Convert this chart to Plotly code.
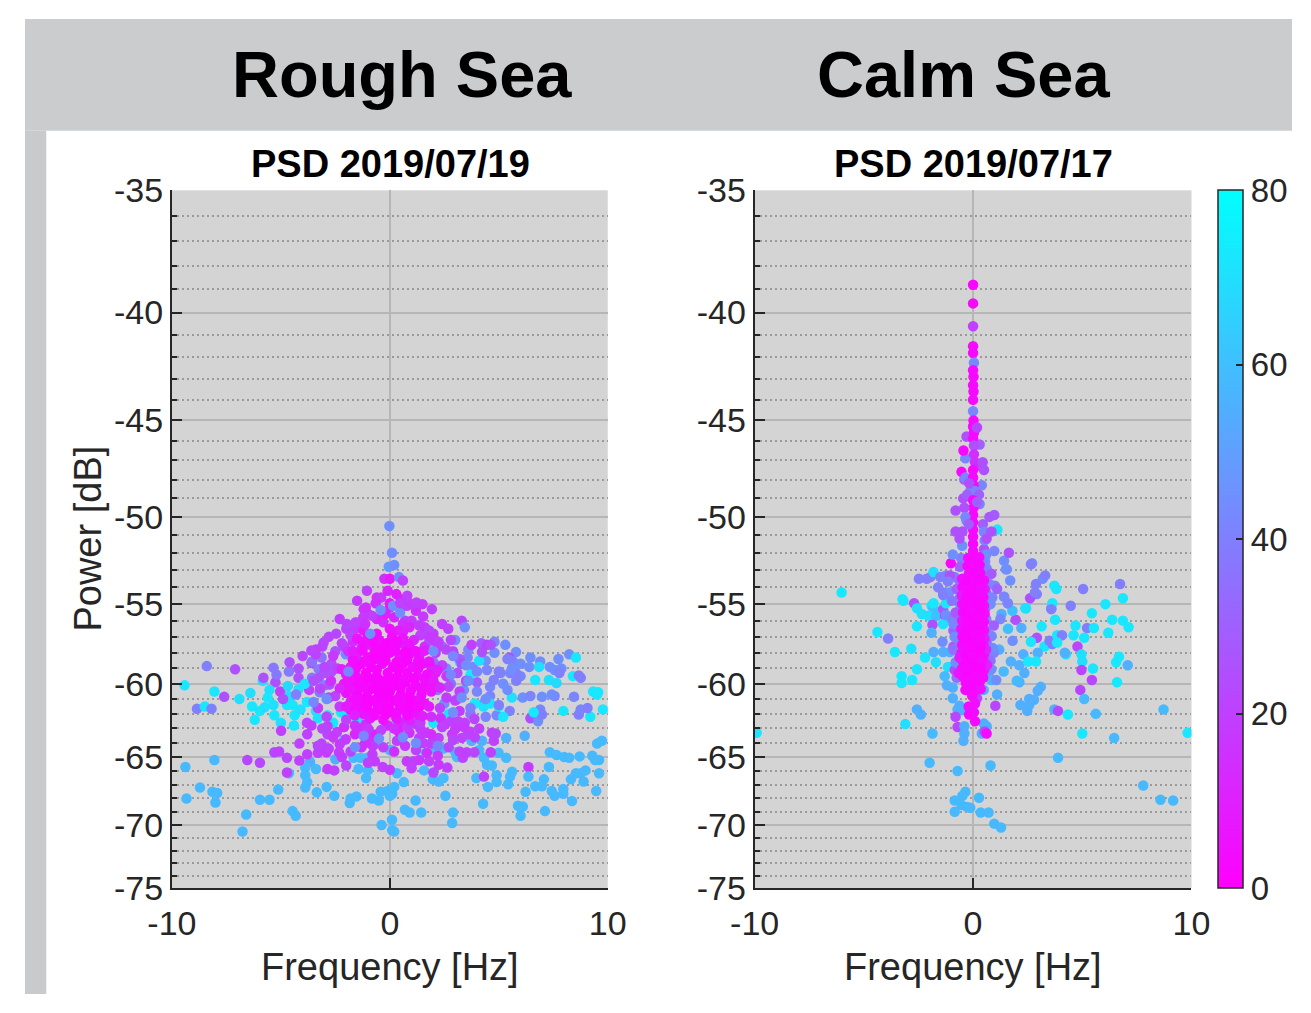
import math
import plotly.graph_objects as go

# ---------------- DATA ----------------
# Rough Sea (PSD 2019/07/19): frequency [Hz], power [dB], colour level (0-80)
rough_lowleft_freq = [-9.38, -8.05, -8.71, -9.33, -8.14, -7.92, -8.0, -6.59, -6.76, -5.96,
                      -5.52, -5.12, -4.46, -4.32, -3.88, -3.35, -2.9, -2.55, -1.84, -1.8,
                      -1.53, -0.82, -0.51, -0.38, -0.42, -0.11, 0.11, 0.11, -3.66, -3.88,
                      -3.88, -3.79, -3.39, -4.63, -2.5, -2.1, -1.44, -0.55, -1.66, -1.35,
                      -1.04, -1.44, -1.0, -1.09, 0.0]
rough_lowleft_power = [-65.7, -65.2, -67.2, -68.0, -67.5, -67.6, -68.3, -69.2, -70.5, -68.1,
                       -68.1, -67.35, -68.95, -69.3, -67.2, -67.55, -67.15, -67.8, -68.35, -68.0,
                       -67.85, -68.0, -68.15, -70.0, -67.5, -67.45, -67.65, -70.4, -65.35, -65.75,
                       -66.3, -66.8, -65.85, -66.15, -65.15, -63.8, -62.55, -64.05, -65.05, -65.05,
                       -65.05, -65.85, -65.95, -66.5, -64.5]
rough_lowleft_level = [58, 58, 58, 58, 58, 58, 58, 58, 58, 58,
                       58, 58, 58, 58, 58, 58, 58, 58, 58, 58,
                       58, 58, 58, 58, 58, 58, 58, 58, 55, 58,
                       58, 58, 58, 58, 55, 55, 55, 55, 58, 58,
                       58, 58, 58, 58, 58]

rough_lowright_freq = [0.1, 1.22, 1.66, 2.1, 2.46, 3.0, 3.08, 3.75, 4.23, 4.77,
                       4.68, 5.34, 6.19, 4.1, 4.32, 4.46, 4.68, 4.99, 5.34, 4.63,
                       0.33, 0.64, 0.2, 1.18, 0.0, 0.69, 0.91, 1.44, 0.1, 0.2,
                       1.57, 1.97, 2.24, 2.46, 2.55, 2.9, 2.86, 3.97, 4.32, 4.5,
                       4.9, 4.9, 5.43, 5.52, 5.61, 4.28, 5.88, 6.1, 6.0, 6.36,
                       6.36, 6.23, 6.67, 6.98, 7.07, 7.12, 7.3, 7.34, 7.65, 8.0,
                       8.23, 7.43, 7.56, 7.96, 7.96, 8.36, 8.71, 8.31, 8.54, 8.76,
                       8.98, 8.89, 9.29, 9.42, 9.6, 9.51, 9.73, 9.6, 9.47]
rough_lowright_power = [-64.5, -64.5, -64.7, -64.5, -64.4, -64.65, -65.0, -63.85, -63.85, -63.85,
                        -63.3, -63.65, -63.5, -64.5, -65.05, -65.55, -65.6, -64.7, -65.05, -64.65,
                        -66.15, -66.8, -67.15, -68.15, -67.8, -68.85, -69.05, -69.05, -69.6, -70.5,
                        -65.95, -66.6, -66.75, -66.5, -67.8, -69.05, -69.85, -66.5, -66.4, -67.15,
                        -66.3, -66.8, -66.95, -66.4, -66.05, -68.4, -68.55, -68.6, -69.3, -65.7,
                        -66.4, -67.5, -67.1, -67.1, -66.6, -68.95, -65.7, -64.65, -64.85, -65.0,
                        -65.05, -67.45, -67.8, -67.3, -67.65, -68.2, -64.95, -66.6, -66.15, -66.15,
                        -65.95, -66.75, -64.9, -65.2, -65.2, -64.05, -63.85, -66.15, -67.45]
rough_lowright_level = [58, 58, 58, 58, 58, 58, 58, 55, 55, 20,
                        20, 55, 55, 58, 58, 58, 58, 58, 58, 20,
                        58, 58, 58, 58, 58, 58, 58, 58, 58, 58,
                        58, 58, 58, 58, 58, 58, 58, 58, 20, 58,
                        58, 58, 58, 58, 58, 58, 58, 58, 58, 18,
                        58, 58, 58, 58, 58, 58, 58, 58, 58, 58,
                        58, 58, 58, 58, 58, 58, 58, 58, 58, 58,
                        58, 58, 58, 58, 58, 58, 58, 58, 58]

rough_left_freq = [-8.4, -7.1, -5.34, -4.63, -4.19, -4.19, -3.6, -3.26, -3.13, -3.57,
                   -2.68, -2.68, -2.02, -1.53, -9.42, -8.05, -7.6, -5.83, -5.25, -5.03,
                   -5.52, -4.68, -4.63, -4.19, -8.85, -8.49, -8.18, -6.32, -5.96, -5.74,
                   -5.3, -5.34, -4.72, -4.46, -4.37, -4.1, -3.3, -3.39, -2.86, -2.86,
                   -2.24, -2.02, -1.53, -1.8, -3.57, -3.26, -2.99, -2.77, -3.22]
rough_left_power = [-58.85, -59.05, -58.95, -59.2, -59.0, -59.6, -58.65, -59.05, -58.3, -58.55,
                    -58.7, -59.2, -58.1, -58.55, -60.1, -60.5, -60.85, -59.8, -59.9, -60.5,
                    -60.4, -60.15, -60.8, -60.35, -61.65, -61.5, -61.65, -61.5, -61.8, -61.55,
                    -62.1, -61.4, -61.4, -61.4, -62.1, -61.7, -61.6, -61.8, -62.1, -60.95,
                    -61.9, -62.05, -61.7, -61.75, -59.6, -59.6, -60.1, -60.05, -60.55]
rough_left_level = [40, 25, 38, 38, 25, 25, 25, 38, 35, 35,
                    25, 25, 45, 45, 72, 72, 25, 70, 25, 20,
                    70, 68, 70, 70, 40, 72, 40, 72, 72, 70,
                    72, 70, 72, 72, 72, 70, 40, 72, 72, 40,
                    72, 72, 5, 5, 38, 25, 42, 25, 38]

rough_fillleft_freq = [-5.8, -5.2, -4.6, -4.0, -3.4, -6.4, -5.6, -4.9, -4.3, -3.7,
                       -5.0, -4.4, -3.8, -6.9, -6.2, -3.1, -2.5]
rough_fillleft_power = [-59.6, -59.4, -58.6, -58.2, -57.8, -60.6, -60.9, -61.0, -60.7, -60.4,
                        -62.6, -62.8, -62.6, -61.0, -62.4, -57.6, -57.9]
rough_fillleft_level = [25, 38, 25, 22, 20, 70, 72, 25, 40, 20,
                        70, 72, 22, 70, 72, 20, 25]

rough_right_freq = [4.8, 5.3, 5.79, 5.48, 5.65, 6.45, 6.9, 6.4, 7.34, 7.56,
                    7.87, 7.78, 8.23, 8.54, 8.4, 8.67, 8.76, 9.33, 9.56, 7.74,
                    7.3, 7.65, 6.67, 6.85, 6.0, 5.79, 5.52, 5.08, 4.77, 4.46,
                    3.22, 3.57, 9.78, 9.2, 8.67, 8.76, 9.07, 8.45, 9.51, 7.96,
                    6.45, 6.8, 6.9, 6.98, 7.56, 7.43, 6.1, 6.45, 6.98]
rough_right_power = [-57.3, -57.5, -57.95, -58.3, -58.55, -58.3, -58.55, -58.9, -58.9, -59.1,
                     -59.0, -59.3, -58.1, -58.3, -59.5, -59.45, -59.6, -60.5, -60.55, -58.4,
                     -59.75, -59.95, -59.75, -58.9, -59.5, -59.3, -59.3, -59.3, -59.75, -59.1,
                     -58.6, -58.3, -61.7, -62.2, -62.05, -61.7, -61.6, -60.85, -60.7, -61.8,
                     -62.3, -62.5, -61.7, -62.05, -60.8, -60.7, -60.9, -60.8, -60.85]
rough_right_level = [42, 45, 45, 25, 40, 45, 45, 45, 45, 45,
                     45, 40, 45, 72, 72, 40, 40, 72, 72, 45,
                     70, 68, 72, 70, 42, 40, 42, 42, 40, 42,
                     70, 42, 72, 72, 40, 42, 40, 42, 72, 72,
                     25, 45, 42, 40, 42, 45, 45, 42, 45]

rough_fillright_freq = [1.8, 2.4, 3.0, 3.6, 4.2, 4.8, 5.4, 6.0,
                        2.0, 2.6, 3.2, 3.8, 4.4, 5.0, 5.6,
                        2.2, 2.8, 3.4, 4.0, 4.6, 5.2, 5.8,
                        2.5, 3.1, 3.7, 4.3, 4.9, 5.5]
rough_fillright_power = [-57.3, -57.6, -57.2, -57.8, -57.4, -58.0, -58.4, -58.7,
                         -58.6, -59.0, -58.4, -58.9, -58.5, -59.2, -59.0,
                         -60.4, -60.0, -60.4, -59.9, -60.8, -60.0, -59.8,
                         -61.3, -61.0, -62.0, -61.3, -62.1, -61.8]
rough_fillright_level = [40, 35, 45, 42, 30, 45, 40, 45,
                         35, 45, 30, 42, 45, 40, 45,
                         40, 35, 45, 30, 42, 45, 40,
                         45, 40, 35, 45, 42, 40]

rough_cyan_freq = [0.2, 0.5, 2.0, 2.7, 3.9, 4.3, 4.6, 5.0, 5.2, 5.6,
                   6.6, -3.8, -3.3, -2.6, -2.2, -3.9, -1.5, 3.7, 4.1]
rough_cyan_power = [-62.8, -62.5, -62.6, -62.0, -61.3, -61.5, -61.3, -61.5, -62.2, -60.9,
                    -61.9, -61.2, -62.3, -62.6, -60.2, -60.0, -62.5, -59.4, -58.5]
rough_cyan_level = [72, 70, 72, 70, 72, 70, 72, 70, 72, 70,
                    72, 72, 70, 72, 70, 72, 70, 72, 70]

rough_ringleft_freq = [-4.99, -3.79, -4.15, -2.86, -2.86, -2.42, -2.02, -3.13, -3.22, -3.3,
                       -2.9, -5.3, -5.08, -4.72, -3.79, -4.15, -6.54, -5.96, -4.72, -2.86,
                       -2.55, -2.33, -2.2, -1.31, -0.91, -0.86, -0.69, -0.33, -0.78, -1.13]
rough_ringleft_power = [-63.15, -63.4, -64.05, -62.85, -63.4, -63.25, -63.75, -64.05, -64.5, -64.7,
                        -64.65, -64.65, -64.6, -65.05, -64.8, -65.25, -65.2, -65.4, -66.1, -65.85,
                        -65.95, -64.65, -65.0, -63.0, -63.3, -63.65, -65.3, -65.7, -64.2, -64.0]
rough_ringleft_level = [20, 20, 20, 20, 22, 20, 18, 20, 22, 20,
                        18, 22, 20, 22, 20, 20, 22, 22, 20, 18,
                        20, 20, 18, 15, 18, 15, 18, 20, 18, 15]

rough_ringright_freq = [0.47, 0.33, 1.35, 1.53, 2.1, 2.24, 2.86, 3.3, 3.57, 3.66,
                        3.88, 4.1, 4.86, 0.78, 1.09, 1.35, 1.8, 2.24, 2.64, 3.35,
                        3.53, 3.88, 0.42, 0.69, 1.22, 1.66, 1.88, 2.33, 2.55, 3.13,
                        3.0, 3.44]
rough_ringright_power = [-63.65, -63.85, -63.65, -64.0, -63.85, -63.65, -63.4, -63.65, -63.4, -63.2,
                         -62.35, -63.0, -63.35, -65.3, -65.3, -65.2, -65.3, -65.55, -65.75, -65.05,
                         -64.65, -64.65, -62.65, -62.55, -62.7, -63.3, -64.05, -62.3, -62.7, -62.5,
                         -63.05, -62.6]
rough_ringright_level = [18, 20, 18, 20, 18, 20, 18, 20, 22, 20,
                         22, 20, 22, 18, 20, 18, 20, 18, 20, 22,
                         20, 22, 10, 12, 15, 18, 20, 15, 18, 20,
                         18, 20]

rough_filllower_freq = [-3.6, -3.1, -2.6, -2.1, -1.6, -1.1, -0.6, -0.1, 0.4, 0.9,
                        1.4, 1.9, 2.4, 2.9, 3.4, 3.9, -3.3, -2.8, -2.3, -1.8,
                        -1.3, -0.8, -0.3, 0.2, 0.7, 1.2, 1.7, 2.2, 2.7, 3.2,
                        -2.0, -1.0, 0.0, 1.0, 2.0]
rough_filllower_power = [-62.8, -63.0, -63.6, -62.9, -63.4, -62.7, -63.4, -62.8, -63.2, -63.3,
                         -63.0, -63.4, -62.9, -63.8, -62.9, -63.6, -64.2, -64.4, -64.1, -64.6,
                         -64.3, -64.8, -64.3, -64.6, -64.2, -64.5, -64.7, -64.9, -64.3, -64.6,
                         -65.6, -65.4, -65.9, -65.8, -66.1]
rough_filllower_level = [20, 22, 18, 15, 12, 15, 10, 12, 10, 15,
                         18, 15, 20, 22, 18, 20, 22, 20, 18, 20,
                         15, 18, 20, 15, 18, 20, 15, 18, 22, 20,
                         22, 20, 18, 20, 22]

rough_ring_freq = [-2.6, -2.4, -2.7, -2.5, -2.3, -2.0, -1.6, -1.0, -0.4, 0.2,
                   0.8, 1.4, 1.9, 2.3, 2.6, 2.7, 2.6, 2.4, 2.1, 1.6,
                   -2.1, -1.7, -3.0, -3.2, 3.1, 3.2, 1.6, -1.6, -0.3, 0.7]
rough_ring_power = [-58.2, -59.0, -59.8, -60.8, -61.5, -62.4, -62.8, -63.0, -63.1, -63.0,
                    -62.9, -62.6, -62.2, -61.6, -60.9, -60.2, -59.5, -58.8, -58.0, -57.6,
                    -57.6, -57.3, -59.3, -60.3, -59.3, -60.5, -56.4, -56.5, -56.1, -56.0]
rough_ring_level = [18, 20, 15, 22, 18, 20, 15, 18, 20, 15,
                    18, 20, 15, 20, 18, 22, 18, 20, 18, 15,
                    20, 15, 25, 22, 25, 20, 18, 18, 15, 20]

rough_ring2_freq = [-3.4, -3.0, -2.8, -3.5, -3.3, -2.9, 2.9, 3.3, 3.0, 3.5,
                    3.2, 2.8, -2.3, -1.2, 0.0, 1.2, 2.4, -1.5, -0.6, 0.5,
                    1.5, -2.8, 2.8, -2.0, 2.0]
rough_ring2_power = [-58.1, -58.9, -60.9, -59.8, -61.6, -62.2, -57.9, -58.7, -61.1, -59.8,
                     -61.8, -62.5, -55.9, -55.3, -55.2, -55.4, -56.2, -54.8, -54.6, -54.7,
                     -55.0, -57.0, -57.2, -56.5, -56.8]
rough_ring2_level = [20, 22, 18, 25, 20, 22, 22, 25, 20, 22,
                     18, 20, 18, 15, 12, 15, 20, 18, 15, 12,
                     18, 22, 22, 20, 18]

rough_fillupper_freq = [-2.2, -1.8, -1.4, -1.0, -0.6, -0.2, 0.2, 0.6, 1.0, 1.4,
                        1.8, 2.2, -1.9, -1.3, -0.7, 0.4, 0.9, 1.5, 2.0, 2.6,
                        -0.4, 0.3, 0.8, -1.1]
rough_fillupper_power = [-57.4, -56.9, -56.4, -55.6, -55.9, -55.6, -55.8, -56.2, -56.0, -56.9,
                         -56.6, -57.6, -57.9, -57.7, -57.3, -56.6, -56.4, -57.9, -57.2, -57.8,
                         -54.6, -54.4, -54.5, -55.2]
rough_fillupper_level = [20, 22, 18, 15, 12, 10, 12, 15, 18, 20,
                         22, 18, 15, 12, 10, 8, 12, 15, 18, 22,
                         18, 10, 20, 15]

rough_core_freq = [-1.2, -0.6, 0.0, 0.6,
                   -1.5, -1.0, -0.5, 0.1, 0.6, 1.1,
                   -0.9, -0.4, 0.1, 0.55, 1.0,
                   -1.5, -1.0, -0.5, 0.0, 0.45, 0.9, 1.35,
                   -1.8, -1.3, -0.85, -0.35, 0.15, 0.6, 1.05, 1.5, 1.9,
                   -2.0, -1.55, -1.1, -0.6, -0.1, 0.35, 0.8, 1.25, 1.7, 2.1,
                   -2.1, -1.6, -1.15, -0.65, -0.2, 0.25, 0.7, 1.2, 1.65, 2.1,
                   -2.0, -1.5, -1.0, -0.5, 0.0, 0.5, 0.95, 1.45, 1.9,
                   -1.8, -1.3, -0.8, -0.3, 0.2, 0.7, 1.15, 1.6,
                   -1.4, -0.9, -0.4, 0.1, 0.6, 1.1,
                   -0.9, -0.3, 0.3, 0.9]
rough_core_power = [-56.6, -56.8, -56.5, -56.7,
                    -57.1, -57.0, -57.2, -57.0, -57.1, -57.2,
                    -57.5, -57.7, -57.6, -57.4, -57.8,
                    -58.1, -58.3, -58.2, -58.0, -58.3, -58.1, -58.3,
                    -58.9, -58.7, -58.9, -58.7, -58.9, -58.7, -58.9, -58.7, -58.9,
                    -59.4, -59.5, -59.3, -59.5, -59.3, -59.5, -59.3, -59.5, -59.4, -59.3,
                    -60.0, -60.1, -59.9, -60.1, -59.9, -60.1, -59.9, -60.1, -59.9, -60.1,
                    -60.6, -60.7, -60.5, -60.7, -60.5, -60.7, -60.5, -60.7, -60.5,
                    -61.2, -61.3, -61.1, -61.3, -61.1, -61.3, -61.1, -61.3,
                    -61.8, -61.9, -61.7, -61.9, -61.7, -61.9,
                    -62.3, -62.4, -62.3, -62.4]
rough_core_level = [8, 4, 6, 10,
                    6, 3, 5, 4, 6, 12,
                    8, 3, 5, 10, 6,
                    10, 4, 2, 3, 5, 4, 8,
                    8, 3, 2, 4, 2, 3, 5, 6, 10,
                    10, 4, 2, 3, 2, 2, 3, 5, 4, 8,
                    6, 3, 2, 2, 3, 2, 2, 4, 3, 6,
                    5, 2, 3, 2, 2, 3, 2, 5, 6,
                    8, 4, 2, 3, 2, 4, 3, 6,
                    6, 3, 2, 4, 3, 5,
                    8, 5, 6, 10]

rough_core2_freq = [-1.7, -1.2, -0.7, -0.2, 0.3, 0.8, 1.3, 1.8,
                    -1.9, -1.4, -0.9, -0.4, 0.1, 0.6, 1.1, 1.6, 2.0,
                    -1.6, -1.1, -0.6, -0.1, 0.4, 0.9, 1.4,
                    -1.2, -0.7, -0.2, 0.3, 0.8, 1.3]
rough_core2_power = [-58.45, -58.55, -58.4, -58.5, -58.6, -58.45, -58.5, -58.55,
                     -59.7, -59.75, -59.65, -59.8, -59.7, -59.75, -59.65, -59.7, -59.8,
                     -60.95, -60.9, -61.0, -60.85, -60.95, -60.9, -61.0,
                     -62.0, -62.1, -62.05, -62.0, -62.1, -62.05]
rough_core2_level = [4, 3, 2, 2, 3, 2, 4, 6,
                     6, 3, 2, 2, 2, 3, 2, 4, 8,
                     4, 2, 2, 2, 3, 2, 5,
                     6, 3, 2, 4, 3, 6]

rough_core3_freq = [-1.25, -0.75, -0.15, 0.35, 0.85,
                    -1.7, -1.25, -0.7, -0.25, 0.25, 0.7, 1.2, 1.6,
                    -2.2, -1.55, -0.6, 0.4, 1.3, 2.2,
                    -2.3, -1.8, -1.3, -0.8, -0.4, 0.05, 0.5, 1.0, 1.45, 1.9, 2.3,
                    -2.0, -1.55, -1.05, -0.55, -0.05, 0.45, 0.9, 1.35, 1.8,
                    -1.6, 1.5]
rough_core3_power = [-57.35, -57.3, -57.4, -57.3, -57.45,
                     -57.9, -57.85, -57.95, -57.9, -57.85, -57.95, -57.9, -57.85,
                     -59.05, -59.0, -59.1, -59.05, -59.0, -59.1,
                     -60.3, -60.35, -60.25, -60.3, -60.35, -60.3, -60.25, -60.3, -60.35, -60.3, -60.25,
                     -61.5, -61.55, -61.45, -61.5, -61.55, -61.45, -61.5, -61.55, -61.5,
                     -62.1, -62.15]
rough_core3_level = [5, 3, 2, 3, 6,
                     8, 4, 2, 2, 3, 2, 4, 8,
                     10, 3, 2, 2, 4, 10,
                     12, 6, 3, 2, 2, 2, 2, 3, 4, 6, 12,
                     8, 4, 2, 3, 2, 3, 2, 4, 8,
                     10, 10]

rough_blue_freq = [2.0, 2.9, 3.5, 2.8, 3.6, 4.0, 3.3, 4.0, 2.9, 3.7,
                   4.4, 4.6, 5.0, 5.4, 4.4, -0.5, -1.9, -2.9, -3.5, -1.2,
                   0.6, 1.2, 2.2, -1.6]
rough_blue_power = [-57.9, -58.2, -58.8, -59.4, -59.8, -59.2, -60.9, -60.5, -61.9, -61.6,
                    -61.0, -60.2, -61.4, -60.4, -62.2, -63.7, -59.2, -61.0, -61.2, -63.5,
                    -63.6, -64.0, -64.2, -64.3]
rough_blue_level = [45, 42, 45, 42, 45, 42, 45, 42, 45, 40,
                    45, 42, 40, 45, 42, 45, 42, 45, 42, 42,
                    45, 45, 42, 45]

rough_top_freq = [-0.02, 0.1, -0.05, 0.2, -0.25, 0.0, 0.42, 0.6, -1.05, -0.1,
                  -0.65, -0.42, 0.0, 0.15, 0.47, 0.47, 0.78, 1.0, 1.22, -0.82,
                  -1.22, -1.57, -1.97, -1.13, -2.46, -3.04, -3.6, -0.9, 1.53, 1.93,
                  3.3, 3.44, 2.68, 1.8, 2.24, 1.35, 3.75, 4.23, 4.46, 4.63]
rough_top_power = [-50.5, -52.0, -52.8, -52.7, -53.5, -53.5, -53.4, -53.6, -54.2, -54.2,
                   -54.95, -55.35, -54.95, -55.1, -55.5, -54.95, -55.1, -55.0, -54.9, -55.7,
                   -55.8, -56.1, -56.2, -56.2, -56.8, -57.35, -57.85, -56.8, -55.75, -55.3,
                   -56.0, -56.4, -56.5, -57.0, -57.3, -56.3, -57.5, -57.95, -57.5, -57.5]
rough_top_level = [45, 45, 48, 45, 15, 8, 45, 20, 20, 12,
                   15, 45, 8, 45, 45, 20, 20, 18, 20, 20,
                   18, 20, 22, 15, 22, 22, 22, 45, 18, 20,
                   22, 45, 20, 18, 20, 18, 20, 25, 20, 25]

# Calm Sea (PSD 2019/07/17)
calm_low_freq = [-0.71, -0.35, -0.49, -0.84, 0.27, -0.53, -0.27, -0.13, -0.84, 0.35,
                 0.71, 0.97, 1.28]
calm_low_power = [-66.0, -67.5, -67.8, -68.15, -67.95, -68.5, -68.65, -68.7, -69.0, -69.05,
                  -69.05, -69.9, -70.2]
calm_low_level = [58, 58, 58, 58, 58, 58, 58, 58, 58, 58,
                  58, 58, 58]

calm_left_freq = [-6.02, -4.38, -3.89, -3.58, -3.27, -3.27, -2.79, -2.57, -2.83, -3.1,
                  -2.57, -2.39, -1.86, -1.99, -3.23, -2.7, -2.57, -2.35, -2.48, -2.12,
                  -1.95, -1.81, -1.5, -1.24, -0.97, -1.9, -1.81, -2.04, -1.68, -1.37,
                  -1.15, -1.37, -1.28, -2.57, -1.86, -1.9, -1.37, -1.24, -0.97, -1.81,
                  -1.37, -1.06, -1.15, -0.84, -1.81, -1.24, -0.62, -3.19, -9.91]
calm_left_power = [-54.3, -56.7, -57.1, -57.95, -59.5, -59.95, -59.75, -59.05, -57.75, -62.7,
                   -61.7, -62.05, -63.35, -65.4, -54.7, -54.95, -55.25, -55.6, -53.5, -53.5,
                   -53.4, -53.1, -53.4, -53.3, -53.4, -55.1, -55.25, -55.7, -55.7, -55.3,
                   -54.85, -54.3, -55.7, -56.35, -56.25, -56.75, -56.2, -55.65, -55.9, -57.95,
                   -57.95, -57.95, -58.9, -59.1, -54.95, -54.95, -54.95, -54.8, -63.3]
calm_left_level = [72, 72, 40, 72, 72, 72, 72, 72, 70, 70,
                   55, 55, 58, 58, 72, 25, 70, 70, 40, 40,
                   40, 70, 40, 42, 40, 72, 60, 70, 60, 28,
                   40, 40, 25, 72, 25, 55, 70, 45, 40, 55,
                   55, 55, 70, 22, 72, 72, 45, 72, 72]

calm_right_freq = [2.7, 3.19, 3.3, 2.88, 2.65, 2.92, 2.61, 2.43, 2.83, 3.81,
                   3.72, 3.58, 3.63, 2.39, 1.42, 1.59, 4.47, 5.04, 6.73, 6.86,
                   6.06, 5.44, 3.76, 3.58, 1.95, 4.69, 4.6, 5.22, 5.09, 5.53,
                   6.19, 6.37, 6.86, 7.12, 3.14, 2.21, 1.81, 2.92, 2.65, 3.27,
                   3.5, 3.63, 3.85, 4.07, 3.85, 4.78, 4.25, 4.2, 5.0, 4.96,
                   2.3, 2.96, 1.73, 2.12, 2.35, 2.12, 2.88, 2.52, 5.49, 4.96,
                   5.44, 6.55, 6.68, 7.08, 6.59, 4.91, 5.09, 3.1, 2.96, 2.57,
                   2.17, 2.57, 2.48, 2.79, 3.72, 3.89, 4.34, 5.62, 5.0, 3.89,
                   6.46, 7.79, 8.58, 9.16, 8.72, 9.82, 0.8]
calm_right_power = [-52.6, -53.5, -53.3, -53.8, -52.65, -54.4, -54.65, -55.25, -54.3, -54.1,
                    -53.9, -55.25, -54.95, -55.25, -54.55, -54.95, -55.1, -54.1, -53.8, -54.65,
                    -55.0, -55.55, -55.95, -55.3, -55.95, -56.3, -56.9, -56.45, -57.05, -56.45,
                    -56.75, -55.95, -56.0, -56.4, -56.35, -56.45, -57.25, -57.05, -57.3, -57.6,
                    -57.25, -57.45, -56.9, -56.9, -57.35, -57.6, -58.1, -58.0, -58.55, -58.1,
                    -58.1, -58.0, -58.55, -58.8, -59.3, -59.9, -58.55, -58.55, -59.0, -59.1,
                    -59.75, -58.6, -58.25, -58.8, -59.9, -60.4, -61.0, -60.2, -60.45, -61.0,
                    -61.4, -61.4, -61.8, -61.05, -61.7, -61.8, -62.05, -62.0, -63.35, -65.05,
                    -63.65, -67.05, -68.1, -68.15, -61.7, -63.3, -65.6]
calm_right_level = [45, 45, 40, 40, 40, 40, 25, 72, 40, 72,
                    72, 45, 72, 70, 42, 42, 40, 40, 40, 72,
                    72, 72, 72, 40, 25, 72, 72, 40, 72, 72,
                    72, 72, 72, 72, 72, 55, 45, 25, 72, 72,
                    40, 40, 72, 40, 72, 22, 70, 55, 70, 70,
                    55, 55, 55, 55, 55, 55, 72, 72, 72, 22,
                    22, 72, 72, 55, 72, 22, 58, 55, 55, 55,
                    55, 55, 55, 55, 55, 22, 72, 58, 72, 58,
                    58, 58, 58, 58, 58, 72, 58]

calm_cloud_freq = [-1.6, -1.1, -0.9, 1.0, 1.3, 1.8, -1.4, 1.2, 1.6, -1.7,
                   1.4, -1.2, 1.1, 2.0, -2.2, 1.7, -0.9, 0.95, -1.3, 1.25]
calm_cloud_power = [-54.0, -54.3, -56.6, -53.9, -55.6, -55.4, -57.3, -57.8, -56.5, -58.6,
                    -59.2, -60.1, -60.7, -59.8, -58.3, -53.6, -57.6, -58.0, -59.5, -55.9]
calm_cloud_level = [40, 45, 30, 40, 55, 60, 45, 55, 60, 70,
                    58, 55, 55, 58, 72, 45, 28, 40, 58, 42]

calm_halo_freq = [-0.84, -1.06, -0.62, 0.62, 0.84, 1.42, 1.5, 0.53, 0.75, -0.75,
                  -0.6, -0.97, 0.6, 0.88, 1.1, -0.55, -0.8, 0.55, 0.8, -0.62,
                  -0.9, 0.6, 0.95, -0.58, -0.85, 0.6, 0.85, -0.62, 0.62, -0.9,
                  0.9, -0.6, 0.6, -0.8, 0.8, -0.6, 0.65, -0.75, 0.75, -1.15,
                  -1.37, 1.55, 1.59, 1.42,
                  -0.93, -0.93, -0.62, -0.71, -0.49, -0.8, -0.71, -0.4, -0.4, -0.44,
                  0.49, 0.62, 0.4, 0.53, 1.02, 0.18, -0.18, 0.49, 0.84, 0.84,
                  1.06]
calm_halo_power = [-53.4, -53.3, -53.6, -52.9, -53.2, -52.45, -52.95, -53.4, -53.8, -54.1,
                   -54.6, -54.8, -54.3, -54.6, -54.1, -55.2, -55.5, -55.3, -55.0, -56.0,
                   -56.2, -55.9, -56.3, -56.7, -57.0, -56.6, -56.95, -57.5, -57.4, -57.8,
                   -57.7, -58.2, -58.2, -58.6, -58.5, -59.1, -59.1, -59.6, -59.6, -53.65,
                   -54.45, -52.95, -54.95, -54.55,
                   -60.25, -60.95, -61.45, -61.7, -61.75, -62.2, -62.9, -62.85, -63.35, -63.85,
                   -62.65, -62.85, -63.35, -63.2, -61.45, -60.95, -60.4, -60.4, -59.75, -59.05,
                   -59.75]
calm_halo_level = [40, 25, 35, 40, 28, 45, 45, 30, 42, 30,
                   42, 38, 35, 42, 30, 45, 28, 25, 45, 35,
                   42, 42, 30, 28, 45, 38, 42, 42, 30, 35,
                   45, 28, 42, 45, 35, 42, 28, 35, 45, 40,
                   40, 45, 42, 42,
                   55, 55, 55, 55, 55, 22, 22, 55, 55, 55,
                   55, 55, 55, 22, 22, 22, 22, 55, 55, 45,
                   45]

calm_halo2_freq = [-0.3, 0.3, -0.35, 0.35, -0.4, 0.4, -0.45, 0.3, -0.3, 0.45,
                   -0.5, 0.5, -0.55, 0.55, -0.6, 0.6]
calm_halo2_power = [-45.8, -46.2, -46.9, -47.3, -48.0, -48.3, -49.0, -49.3, -50.2, -50.4,
                    -51.6, -51.8, -52.3, -52.5, -52.8, -52.1]
calm_halo2_level = [25, 30, 42, 25, 30, 42, 25, 40, 42, 30,
                    45, 25, 40, 42, 30, 45]

calm_column2_freq = [-0.5, 0.5, -0.48, 0.52, -0.52, 0.47, -0.5, 0.5, -0.46, 0.53,
                     -0.5, 0.49, -0.53, 0.5, -0.49, 0.52, -0.5, 0.48, -0.52, 0.5,
                     -0.47, 0.51, -0.5, 0.5, -0.48, 0.46, -0.62, 0.64, -0.66, 0.6]
calm_column2_power = [-53.5, -53.6, -54.0, -54.1, -54.5, -54.6, -55.0, -55.1, -55.5, -55.6,
                      -56.0, -56.1, -56.5, -56.6, -57.0, -57.1, -57.5, -57.6, -58.0, -58.1,
                      -58.5, -58.6, -59.0, -59.1, -59.5, -59.6, -58.3, -58.8, -59.3, -57.8]
calm_column2_level = [5, 4, 3, 6, 8, 3, 4, 5, 3, 4,
                      6, 3, 4, 5, 3, 8, 4, 3, 5, 3,
                      4, 6, 3, 4, 5, 3, 8, 10, 6, 12]

calm_column_freq = [-0.22, 0.05, 0.28, -0.25, 0.02, 0.3, -0.2, 0.08, 0.32, -0.28,
                    0.04, 0.27, -0.24, 0.06, 0.34, -0.3, 0.0, 0.29, -0.26, 0.05,
                    0.33, -0.3, 0.03, 0.31, -0.27, 0.07, 0.36, -0.32, 0.02, 0.3,
                    -0.28, 0.06, 0.35, -0.33, 0.0, 0.32, -0.3, 0.04, 0.36, -0.35,
                    0.02, 0.33, -0.32, 0.06, 0.38, -0.36, 0.0, 0.34, -0.3, 0.05,
                    0.37, -0.33, 0.02, 0.3, -0.25, 0.06, 0.35,
                    -0.18, 0.04, 0.09, 0.62, -1.02, -0.35, -0.04, -0.35, 0.09, -0.2]
calm_column_power = [-52.3, -52.35, -52.25, -52.75, -52.8, -52.7, -53.2, -53.25, -53.15, -53.65,
                     -53.7, -53.6, -54.1, -54.15, -54.05, -54.55, -54.6, -54.5, -55.0, -55.05,
                     -54.95, -55.45, -55.5, -55.4, -55.9, -55.95, -55.85, -56.35, -56.4, -56.3,
                     -56.8, -56.85, -56.75, -57.25, -57.3, -57.2, -57.7, -57.75, -57.65, -58.15,
                     -58.2, -58.1, -58.6, -58.65, -58.55, -59.05, -59.1, -59.0, -59.5, -59.55,
                     -59.45, -59.95, -60.0, -59.9, -60.4, -60.45, -60.35,
                     -62.05, -61.9, -62.5, -63.35, -52.6, -60.4, -60.8, -59.75, -61.3, -61.5]
calm_column_level = [3, 2, 4, 2, 3, 2, 4, 2, 3, 2,
                     3, 2, 3, 2, 4, 2, 2, 3, 3, 2,
                     2, 2, 3, 2, 2, 2, 3, 3, 2, 2,
                     2, 3, 2, 2, 2, 3, 3, 2, 2, 2,
                     3, 2, 2, 2, 4, 3, 2, 2, 2, 3,
                     3, 4, 2, 3, 3, 2, 5,
                     3, 3, 3, 3, 2, 3, 3, 3, 5, 4]

calm_spike_freq = [0.0, 0.0, 0.0, 0.0, 0.0, 0.04, 0.0, 0.02, 0.0, 0.02,
                   0.0, 0.0, 0.02, 0.0, 0.04, 0.0, 0.18, 0.04, -0.44, 0.04,
                   0.09, 0.44, 0.5, -0.53, -0.35, 0.0, 0.0, 0.02, 0.0, -0.13,
                   0.09, -0.27, 0.27, 0.0, 0.02, -0.8, -0.4, 0.0, -0.35, 0.75,
                   0.97, 0.0, 1.11, -0.8, -0.62, -0.49, 0.49, 0.53, 0.0, 0.0,
                   0.0, 0.97, 1.64, -0.93, 0.0, 0.84, 0.62, -0.18, 0.18, -0.2]
calm_spike_power = [-38.8, -39.6, -40.6, -41.5, -41.8, -42.25, -42.6, -42.9, -43.3, -43.6,
                    -44.0, -44.55, -45.0, -45.3, -45.6, -45.9, -45.35, -46.25, -46.5, -46.7,
                    -47.1, -47.1, -47.5, -47.6, -47.9, -47.5, -47.9, -48.3, -48.7, -48.6,
                    -48.6, -48.8, -48.8, -49.1, -49.5, -49.65, -49.5, -49.9, -50.0, -50.0,
                    -49.9, -50.3, -50.7, -50.8, -51.2, -50.8, -50.8, -51.3, -50.7, -51.1,
                    -51.5, -51.9, -52.0, -52.1, -51.9, -50.8, -51.2, -48.2, -49.2, -50.4]
calm_spike_level = [2, 2, 20, 3, 3, 42, 3, 3, 3, 3,
                    3, 42, 3, 3, 3, 3, 22, 25, 3, 15,
                    15, 25, 25, 3, 42, 3, 3, 3, 3, 42,
                    42, 30, 30, 3, 3, 25, 25, 3, 42, 28,
                    28, 3, 72, 25, 25, 25, 42, 42, 3, 3,
                    3, 42, 25, 45, 3, 25, 25, 25, 30, 30]

power_ticks = [-35, -40, -45, -50, -55, -60, -65, -70, -75]
freq_ticks = [-10, 0, 10]
level_ticks = [0, 20, 40, 60, 80]

# ---------------- FIGURE ----------------
W, H = 1311, 1013
FONT = "Liberation Sans, Arial, Helvetica, sans-serif"
INK = "#262626"


def fx(p):
    return p / W


def fy(p):
    return 1 - p / H


def concat(groups):
    fr, pw, lv = [], [], []
    for f, p, c in groups:
        if not (len(f) == len(p) == len(c)):
            raise ValueError("length mismatch %d %d %d" % (len(f), len(p), len(c)))
        fr += f
        pw += p
        lv += c
    return fr, pw, lv


rough = concat([
    (rough_lowleft_freq, rough_lowleft_power, rough_lowleft_level),
    (rough_lowright_freq, rough_lowright_power, rough_lowright_level),
    (rough_left_freq, rough_left_power, rough_left_level),
    (rough_fillleft_freq, rough_fillleft_power, rough_fillleft_level),
    (rough_right_freq, rough_right_power, rough_right_level),
    (rough_fillright_freq, rough_fillright_power, rough_fillright_level),
    (rough_cyan_freq, rough_cyan_power, rough_cyan_level),
    (rough_ringleft_freq, rough_ringleft_power, rough_ringleft_level),
    (rough_ringright_freq, rough_ringright_power, rough_ringright_level),
    (rough_filllower_freq, rough_filllower_power, rough_filllower_level),
    (rough_ring_freq, rough_ring_power, rough_ring_level),
    (rough_ring2_freq, rough_ring2_power, rough_ring2_level),
    (rough_fillupper_freq, rough_fillupper_power, rough_fillupper_level),
    (rough_core_freq, rough_core_power, rough_core_level),
    (rough_core2_freq, rough_core2_power, rough_core2_level),
    (rough_core3_freq, rough_core3_power, rough_core3_level),
    (rough_blue_freq, rough_blue_power, rough_blue_level),
    (rough_top_freq, rough_top_power, rough_top_level),
])
calm = concat([
    (calm_low_freq, calm_low_power, calm_low_level),
    (calm_left_freq, calm_left_power, calm_left_level),
    (calm_right_freq, calm_right_power, calm_right_level),
    (calm_cloud_freq, calm_cloud_power, calm_cloud_level),
    (calm_halo_freq, calm_halo_power, calm_halo_level),
    (calm_halo2_freq, calm_halo2_power, calm_halo2_level),
    (calm_column2_freq, calm_column2_power, calm_column2_level),
    (calm_column_freq, calm_column_power, calm_column_level),
    (calm_spike_freq, calm_spike_power, calm_spike_level),
])

fig = go.Figure()
for (fr, pw, lv), xa, ya in [(rough, "x", "y"), (calm, "x2", "y2")]:
    # the power axis is a logarithmic axis of |dB| (as in the original figure)
    fig.add_trace(go.Scatter(
        x=fr, y=[abs(v) for v in pw], mode="markers", xaxis=xa, yaxis=ya,
        marker=dict(size=10.5, color=lv, coloraxis="coloraxis", line=dict(width=0)),
        showlegend=False, hoverinfo="skip"))

mag_ticks = [abs(v) for v in power_ticks]
minor_vals = [v for v in range(36, 75) if v % 5]

yaxis_common = dict(
    type="log", range=[math.log10(75), math.log10(35)],
    tickmode="array", tickvals=mag_ticks, ticktext=[str(v) for v in power_ticks],
    ticks="inside", ticklen=10, tickwidth=2, tickcolor=INK,
    showline=True, linecolor=INK, linewidth=2, mirror=False,
    showgrid=True, gridcolor="#B6B6B6", gridwidth=1.5, zeroline=False,
    tickfont=dict(family=FONT, size=34, color=INK), ticklabelstandoff=0,
    minor=dict(tickmode="array", tickvals=minor_vals, ticks="inside", ticklen=5,
               tickwidth=1.5, tickcolor=INK, showgrid=True, gridcolor="#9A9A9A",
               griddash="2px,3px", gridwidth=1.5),
    fixedrange=True,
    domain=[fy(903), fy(178)],
)
xaxis_common = dict(
    range=[-10, 10], tickmode="array", tickvals=freq_ticks,
    ticktext=[str(v) for v in freq_ticks],
    ticks="inside", ticklen=10, tickwidth=2, tickcolor=INK,
    showline=True, linecolor=INK, linewidth=2, mirror=False,
    showgrid=True, gridcolor="#B6B6B6", gridwidth=1.5, zeroline=False,
    tickfont=dict(family=FONT, size=34, color=INK), ticklabelstandoff=4,
    fixedrange=True,
)

fig.update_layout(
    width=W, height=H, margin=dict(l=0, r=0, t=0, b=0),
    paper_bgcolor="white", plot_bgcolor="#D4D4D4",
    xaxis=dict(xaxis_common, domain=[fx(152), fx(603)], anchor="y"),
    yaxis=dict(yaxis_common, anchor="x"),
    xaxis2=dict(xaxis_common, domain=[fx(755), fx(1207)], anchor="y2"),
    yaxis2=dict(yaxis_common, anchor="x2"),
    coloraxis=dict(
        colorscale=[[0, "rgb(255,0,255)"], [1, "rgb(0,255,255)"]], cmin=0, cmax=80,
        colorbar=dict(
            thickness=25, thicknessmode="pixels", len=725 / H, lenmode="fraction",
            x=fx(1234), xanchor="left", y=fy(903), yanchor="bottom",
            xpad=0, ypad=0, outlinewidth=1.5, outlinecolor=INK,
            tickmode="array", tickvals=level_ticks, ticks="inside", ticklen=7,
            tickwidth=1.5, tickcolor=INK,
            tickfont=dict(family=FONT, size=33, color=INK),
        ),
    ),
    shapes=[
        dict(type="rect", xref="paper", yref="paper", x0=0, x1=1, y0=fy(116), y1=1,
             fillcolor="#CBCCCE", line=dict(width=0), layer="below"),
        dict(type="rect", xref="paper", yref="paper", x0=0, x1=fx(22), y0=0, y1=fy(116),
             fillcolor="#C9CACC", line=dict(width=0), layer="below"),
    ],
)

ann = [
    dict(text="<b>Rough Sea</b>", x=fx(390), y=fy(58), size=65, color="black"),
    dict(text="<b>Calm Sea</b>", x=fx(972), y=fy(58), size=65, color="black"),
    dict(text="<b>PSD 2019/07/19</b>", x=fx(378), y=fy(151), size=38, color="black"),
    dict(text="<b>PSD 2019/07/17</b>", x=fx(981), y=fy(151), size=38, color="black"),
    dict(text="Frequency [Hz]", x=fx(378), y=fy(985), size=38, color=INK),
    dict(text="Frequency [Hz]", x=fx(981), y=fy(985), size=38, color=INK),
]
for a in ann:
    fig.add_annotation(text=a["text"], x=a["x"], y=a["y"], xref="paper", yref="paper",
                       xanchor="center", yanchor="middle", showarrow=False,
                       font=dict(family=FONT, size=a["size"], color=a["color"]))
fig.add_annotation(text="Power [dB]", x=fx(65), y=fy(540), xref="paper", yref="paper",
                   xanchor="center", yanchor="middle", showarrow=False, textangle=-90,
                   font=dict(family=FONT, size=38, color=INK))

fig.write_html("out.html",
               post_script="document.body.style.margin='0';document.body.style.overflow='hidden';")
